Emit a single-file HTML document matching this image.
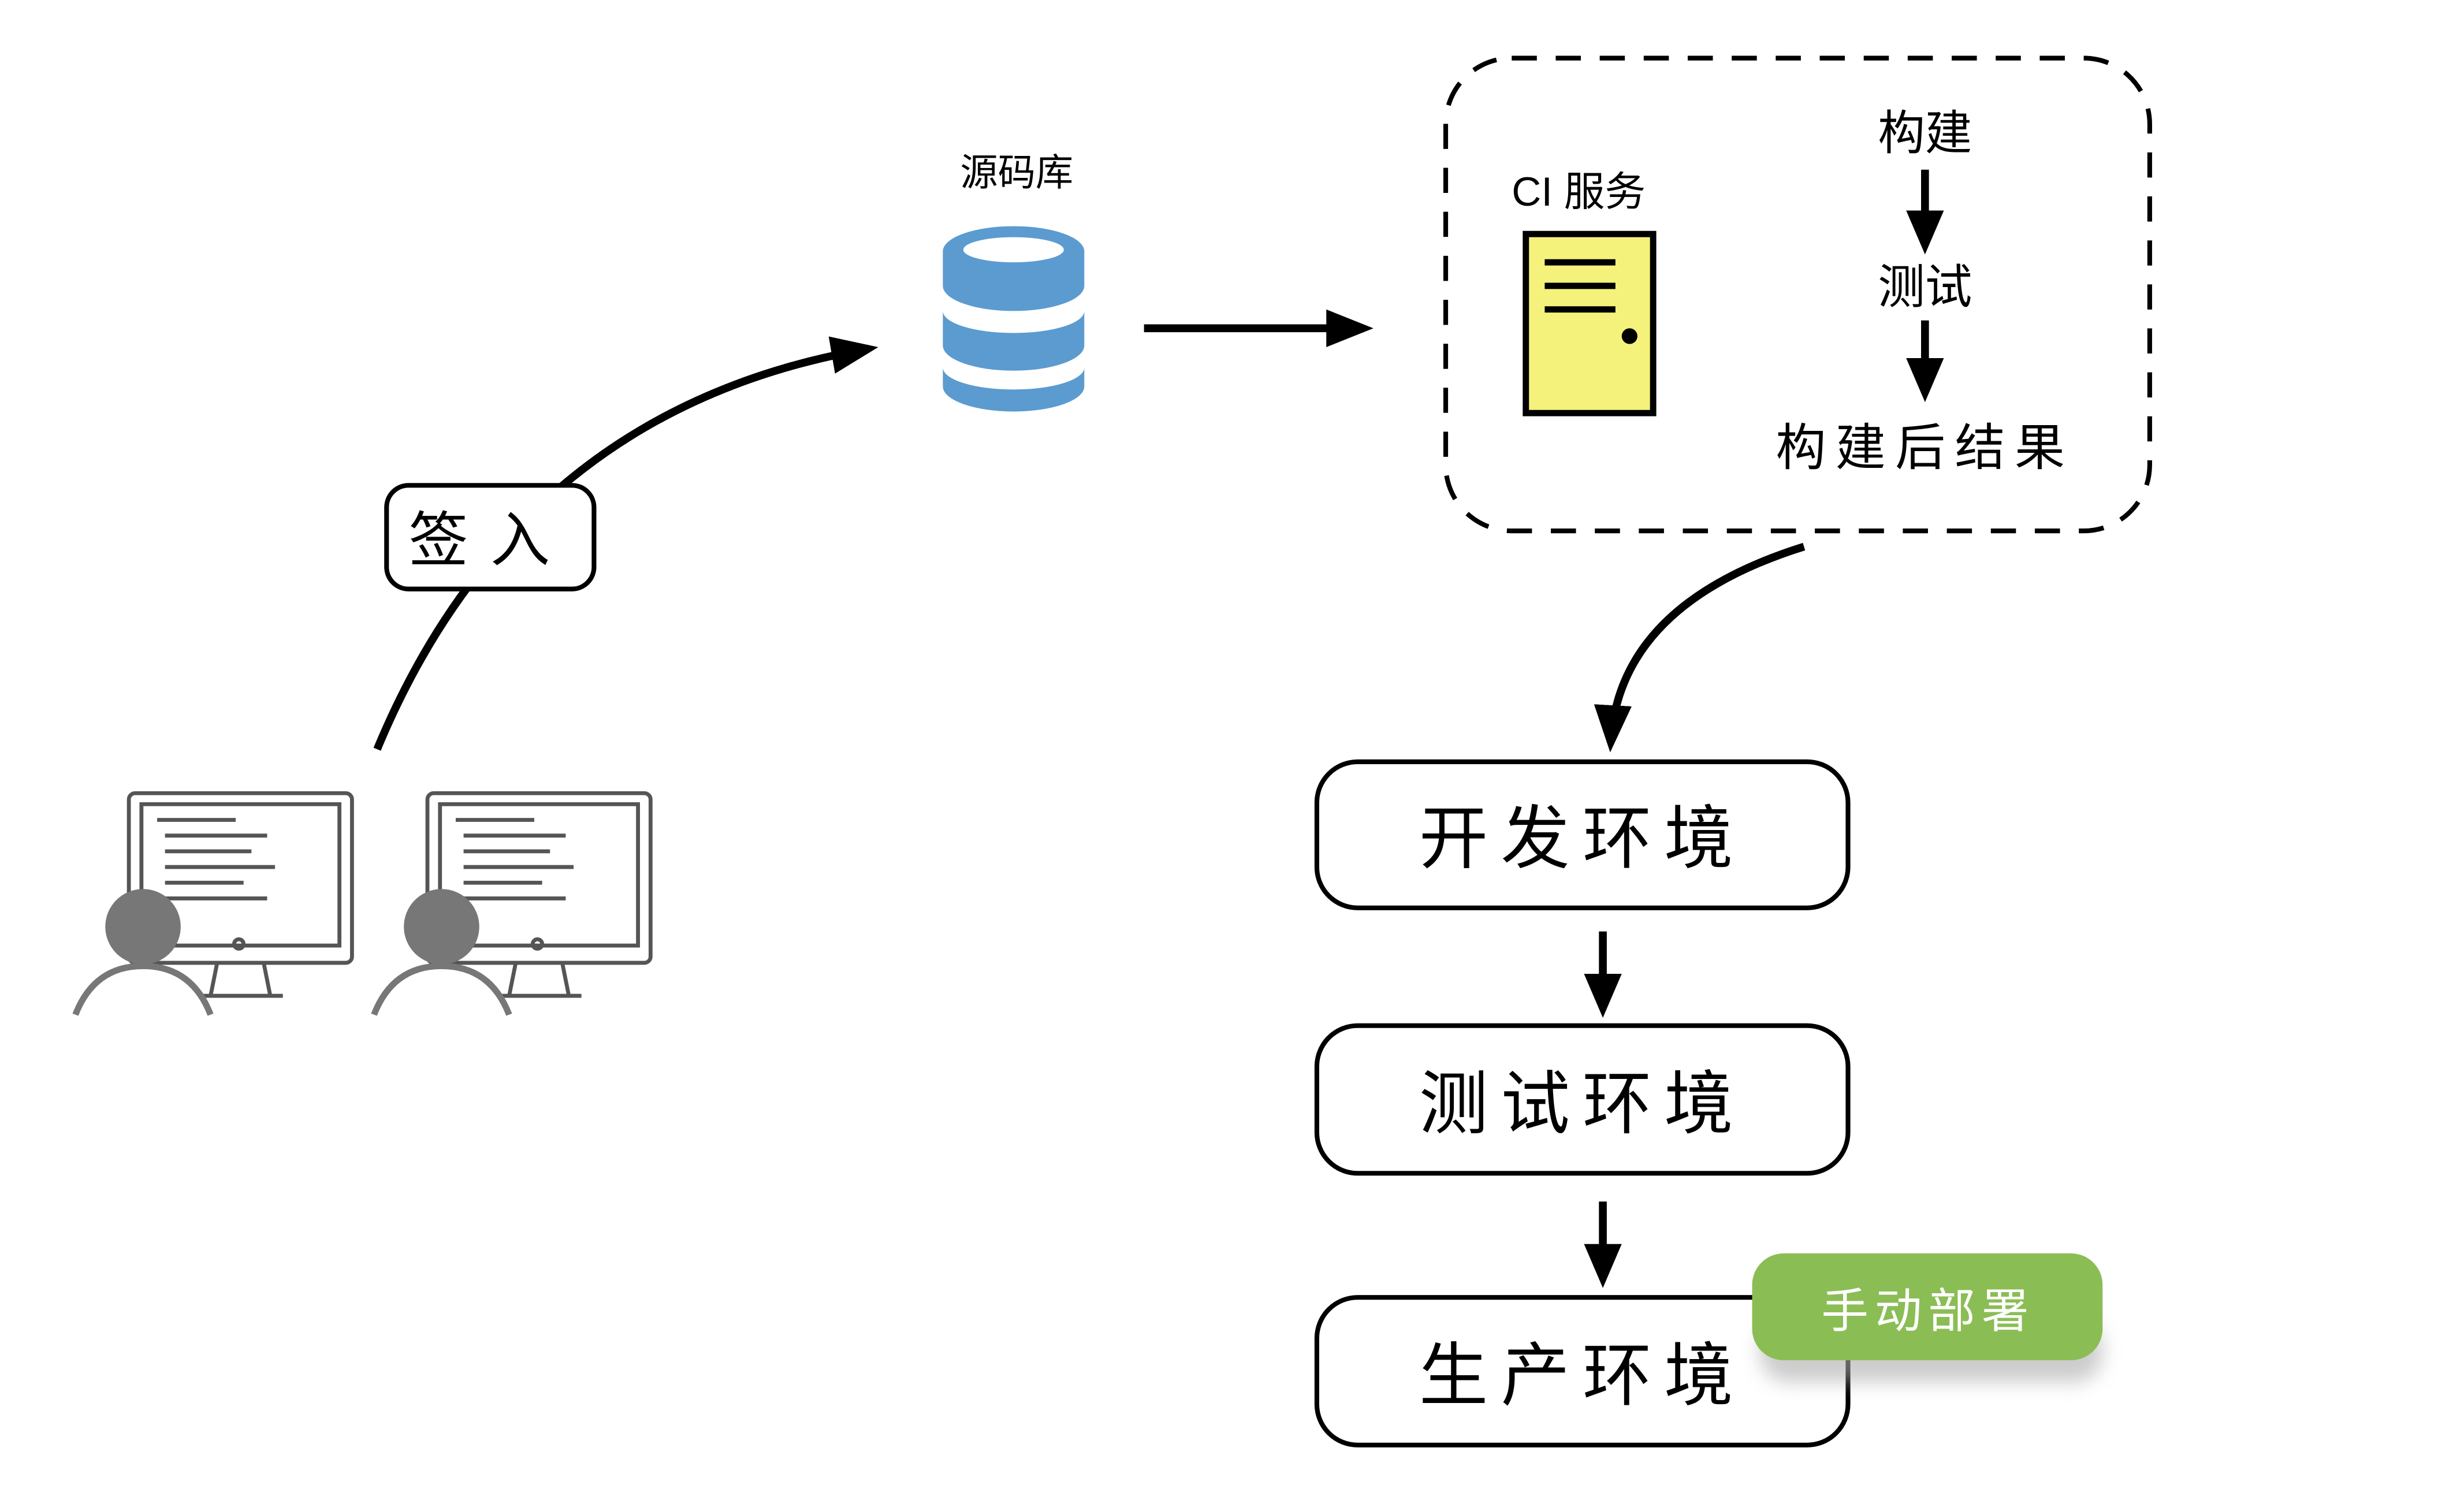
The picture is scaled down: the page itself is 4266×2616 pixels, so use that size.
<!DOCTYPE html>
<html><head><meta charset="utf-8"><style>
html,body{margin:0;padding:0;background:#fff;width:4266px;height:2616px;overflow:hidden}
svg{display:block}
text{font-family:"Liberation Sans","Noto Sans CJK SC",sans-serif}
</style></head><body>
<svg width="4266" height="2616" viewBox="0 0 1568 962" preserveAspectRatio="none" xmlns="http://www.w3.org/2000/svg">
<defs>
<marker id="ah" markerWidth="30" markerHeight="30" refX="24" refY="15" orient="auto" markerUnits="userSpaceOnUse"><path d="M0,3 L30,15 L0,27 Z" fill="#000"/></marker>
<marker id="as" markerWidth="30" markerHeight="30" refX="22" refY="15" orient="auto" markerUnits="userSpaceOnUse"><path d="M0,3 L28,15 L0,27 Z" fill="#000"/></marker>
<filter id="sh" x="-10%" y="-10%" width="120%" height="160%"><feGaussianBlur stdDeviation="6"/></filter>
</defs>
<rect x="920" y="37" width="448" height="301" rx="42" fill="none" stroke="#000" stroke-width="3" stroke-dasharray="16,12"/>
<text x="962" y="131" font-size="26">CI 服务</text>
<rect x="971" y="149" width="81" height="114" fill="#f4f27a" stroke="#000" stroke-width="4"/>
<line x1="983" y1="167" x2="1028" y2="167" stroke="#000" stroke-width="4"/>
<line x1="983" y1="182" x2="1028" y2="182" stroke="#000" stroke-width="4"/>
<line x1="983" y1="197" x2="1028" y2="197" stroke="#000" stroke-width="4"/>
<circle cx="1037" cy="214" r="5" fill="#000"/>
<text x="1225" y="95" font-size="30" text-anchor="middle">构建</text>
<line x1="1225" y1="108" x2="1225" y2="156" stroke="#000" stroke-width="5" marker-end="url(#as)"/>
<text x="1225" y="193" font-size="30" text-anchor="middle">测试</text>
<line x1="1225" y1="204" x2="1225" y2="250" stroke="#000" stroke-width="5" marker-end="url(#as)"/>
<text x="1225" y="296" font-size="32" text-anchor="middle" letter-spacing="6">构建后结果</text>
<text x="647" y="118" font-size="24" text-anchor="middle">源码库</text>
<g fill="#5b9bd0">
<path d="M600,160 a45,16 0 0 1 90,0 v22 a45,16 0 0 1 -90,0 z"/>
<path d="M600,198 a45,14 0 0 0 90,0 v22 a45,16 0 0 1 -90,0 z"/>
<path d="M600,234 a45,14 0 0 0 90,0 v12 a45,16 0 0 1 -90,0 z"/>
</g>
<ellipse cx="645" cy="159" rx="32" ry="8" fill="#fff"/>
<line x1="728" y1="209" x2="868" y2="209" stroke="#000" stroke-width="5" marker-end="url(#ah)"/>
<path d="M240,477 Q330,260 553,222" fill="none" stroke="#000" stroke-width="5" marker-end="url(#ah)"/>
<rect x="246" y="309" width="132" height="66" rx="14" fill="#fff" stroke="#000" stroke-width="3"/>
<text x="312" y="357" font-size="38" text-anchor="middle" letter-spacing="14">签入</text>
<g id="pc" fill="none" stroke="#555" stroke-width="2.5">
<rect x="82" y="505" width="142" height="108" rx="4"/>
<rect x="90" y="512" width="126" height="90"/>
<line x1="100" y1="522" x2="150" y2="522"/><line x1="105" y1="532" x2="170" y2="532"/><line x1="105" y1="542" x2="160" y2="542"/><line x1="105" y1="552" x2="175" y2="552"/><line x1="105" y1="562" x2="155" y2="562"/><line x1="105" y1="572" x2="170" y2="572"/>
<circle cx="152" cy="601" r="3"/>
<path d="M138,614 L134,634 M168,614 L172,634 M128,634 H180"/>
<circle cx="91" cy="590" r="24" fill="#777" stroke="none"/>
<path d="M48,646 Q60,615 91,615 Q122,615 134,646" stroke="#777" stroke-width="4"/>
</g>
<use href="#pc" x="190"/>
<path d="M1148,348 Q1030,385 1025,473" fill="none" stroke="#000" stroke-width="5" marker-end="url(#ah)"/>
<rect x="838" y="485" width="338" height="93" rx="26" fill="#fff" stroke="#000" stroke-width="3"/>
<text x="1007" y="549" font-size="44" text-anchor="middle" letter-spacing="8">开发环境</text>
<line x1="1020" y1="593" x2="1020" y2="642" stroke="#000" stroke-width="5" marker-end="url(#as)"/>
<rect x="838" y="653" width="338" height="94" rx="26" fill="#fff" stroke="#000" stroke-width="3"/>
<text x="1007" y="718" font-size="44" text-anchor="middle" letter-spacing="8">测试环境</text>
<line x1="1020" y1="765" x2="1020" y2="814" stroke="#000" stroke-width="5" marker-end="url(#as)"/>
<rect x="838" y="826" width="338" height="94" rx="26" fill="#fff" stroke="#000" stroke-width="3"/>
<text x="1007" y="891" font-size="44" text-anchor="middle" letter-spacing="8">生产环境</text>
<rect x="1120" y="840" width="218" height="40" rx="18" fill="#aaa" filter="url(#sh)" opacity="0.6"/>
<rect x="1115" y="798" width="223" height="68" rx="20" fill="#8bbd55"/>
<text x="1227" y="845" font-size="30" text-anchor="middle" fill="#fff" letter-spacing="4">手动部署</text>
</svg>
</body></html>
